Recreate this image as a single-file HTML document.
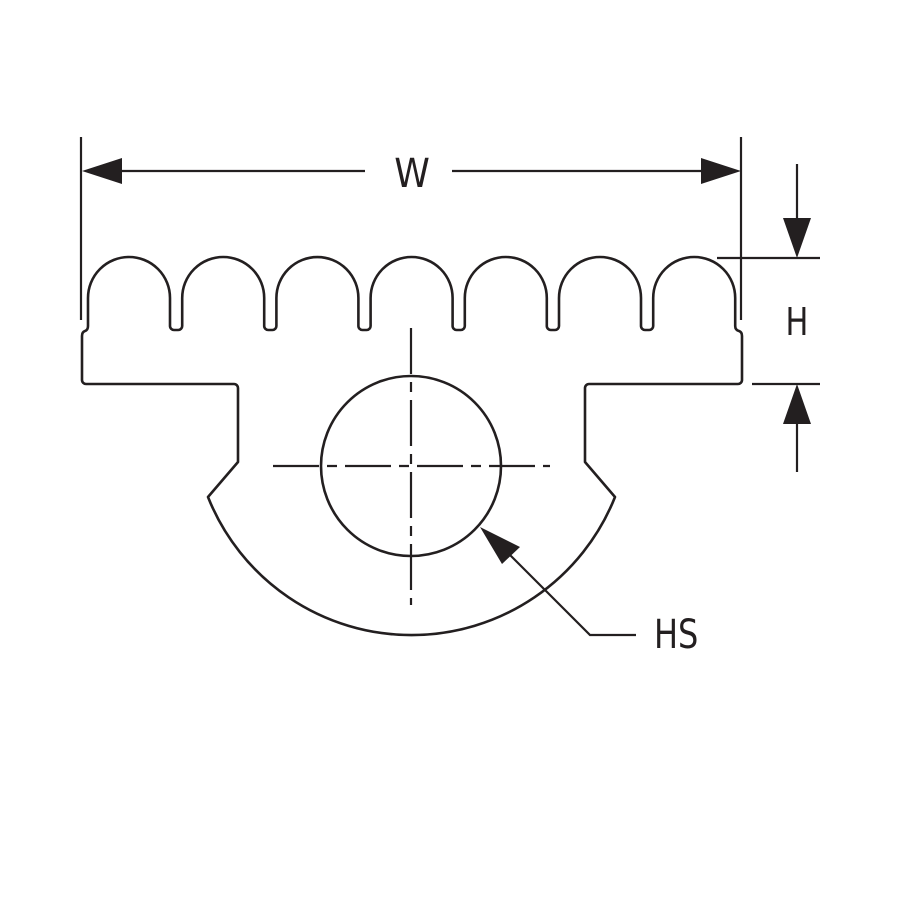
<!DOCTYPE html>
<html><head><meta charset="utf-8"><style>
html,body{margin:0;padding:0;background:#fff;}
svg{display:block}
text{font-family:"DejaVu Sans","Liberation Sans",sans-serif;font-weight:normal;fill:#231f20}
</style></head><body>
<svg width="900" height="900" viewBox="0 0 900 900" xmlns="http://www.w3.org/2000/svg">
<g fill="none" stroke="#231f20" stroke-width="2.6" stroke-linejoin="round">
<path d="M88 298 A41 41 0 0 1 170 298 L170 326 A4 4 0 0 0 174 330 L178.2 330 A4 4 0 0 0 182.2 326 L182.2 298
A41 41 0 0 1 264.2 298 L264.2 326 A4 4 0 0 0 268.2 330 L272.4 330 A4 4 0 0 0 276.4 326 L276.4 298
A41 41 0 0 1 358.4 298 L358.4 326 A4 4 0 0 0 362.4 330 L366.6 330 A4 4 0 0 0 370.6 326 L370.6 298
A41 41 0 0 1 452.6 298 L452.6 326 A4 4 0 0 0 456.6 330 L460.8 330 A4 4 0 0 0 464.8 326 L464.8 298
A41 41 0 0 1 546.8 298 L546.8 326 A4 4 0 0 0 550.8 330 L555 330 A4 4 0 0 0 559 326 L559 298
A41 41 0 0 1 641 298 L641 326 A4 4 0 0 0 645 330 L649.2 330 A4 4 0 0 0 653.2 326 L653.2 298
A41 41 0 0 1 735.2 298 L735.2 326 Q735.2 330 739 331 Q742 332 742 336 L742 380 A4 4 0 0 1 738 384 L589 384 A4 4 0 0 0 585 388 L585 462 L615 497
A219 219 0 0 1 208 497 L238 462 L238 388 A4 4 0 0 0 234 384 L86 384 A4 4 0 0 1 82 380 L82 336 Q82 332 85 331 Q88 330 88 326 Z"/>
<circle cx="411" cy="466" r="90"/>
</g>
<g stroke="#231f20" stroke-width="2.2" fill="none">
<line x1="411" y1="328" x2="411" y2="605" stroke-dasharray="46 8 10 8"/>
<line x1="273" y1="466" x2="550" y2="466" stroke-dasharray="46 8 10 8"/>
<line x1="81" y1="137" x2="81" y2="320"/>
<line x1="741" y1="137" x2="741" y2="320"/>
<line x1="100" y1="171" x2="365" y2="171"/>
<line x1="452" y1="171" x2="720" y2="171"/>
<line x1="717" y1="258" x2="820" y2="258"/>
<line x1="752" y1="384" x2="820" y2="384"/>
<line x1="797" y1="164" x2="797" y2="230"/>
<line x1="797" y1="410" x2="797" y2="472"/>
<polyline points="500,545 590,635 636,635"/>
</g>
<g fill="#231f20">
<polygon points="82,171 122,158 122,184"/>
<polygon points="741,171 701,158 701,184"/>
<polygon points="797,258 783,218 811,218"/>
<polygon points="797,384 783,424 811,424"/>
<polygon points="480,527 520,547 502,564"/>
</g>
<text x="412" y="187" font-size="40" text-anchor="middle" transform="translate(412 0) scale(0.9 1) translate(-412 0)">W</text>
<text x="797" y="335" font-size="38" text-anchor="middle" transform="translate(797 0) scale(0.8 1) translate(-797 0)">H</text>
<text x="654" y="648" font-size="40" transform="translate(654 0) scale(0.8 1) translate(-654 0)">HS</text>
</svg>
</body></html>
